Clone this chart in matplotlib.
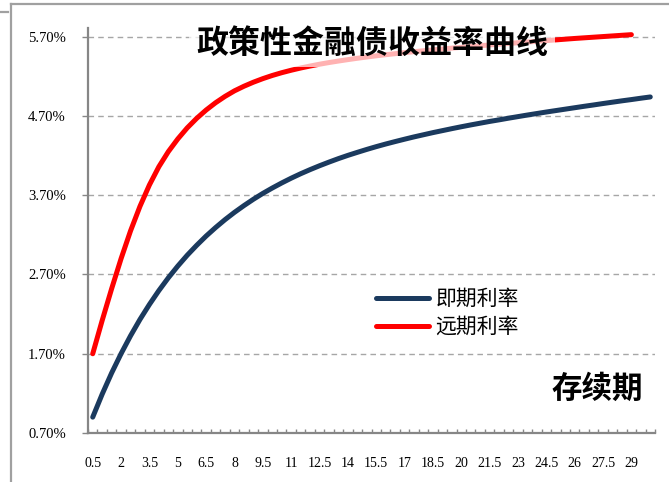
import matplotlib
matplotlib.use("Agg")
import matplotlib.pyplot as plt
from matplotlib.lines import Line2D
from matplotlib.ticker import FixedLocator, FuncFormatter

# ---------------- data ----------------
terms = [0.5, 1.0, 1.5, 2.0, 2.5, 3.0, 3.5, 4.0, 4.5, 5.0,
         5.5, 6.0, 6.5, 7.0, 7.5, 8.0, 8.5, 9.0, 9.5, 10.0,
         10.5, 11.0, 11.5, 12.0, 12.5, 13.0, 13.5, 14.0, 14.5, 15.0,
         15.5, 16.0, 16.5, 17.0, 17.5, 18.0, 18.5, 19.0, 19.5, 20.0,
         20.5, 21.0, 21.5, 22.0, 22.5, 23.0, 23.5, 24.0, 24.5, 25.0,
         25.5, 26.0, 26.5, 27.0, 27.5, 28.0, 28.5, 29.0, 29.5, 30.0]

spot_rate = [0.900, 1.190, 1.457, 1.701, 1.926, 2.133, 2.322, 2.497, 2.658, 2.806,
             2.943, 3.068, 3.185, 3.292, 3.392, 3.484, 3.569, 3.649, 3.723, 3.791,
             3.855, 3.915, 3.971, 4.023, 4.072, 4.118, 4.162, 4.203, 4.241, 4.278,
             4.313, 4.346, 4.377, 4.407, 4.436, 4.463, 4.490, 4.515, 4.540, 4.564,
             4.587, 4.609, 4.631, 4.651, 4.672, 4.692, 4.712, 4.731, 4.750, 4.768,
             4.786, 4.804, 4.822, 4.839, 4.857, 4.874, 4.891, 4.907, 4.924, 4.940]

forward_rate = [1.700, 2.120, 2.520, 2.900, 3.250, 3.560, 3.830, 4.060, 4.250, 4.410,
                4.550, 4.670, 4.775, 4.867, 4.947, 5.017, 5.075, 5.126, 5.171, 5.211,
                5.246, 5.277, 5.305, 5.330, 5.353, 5.374, 5.393, 5.411, 5.428, 5.444,
                5.459, 5.473, 5.486, 5.499, 5.511, 5.523, 5.534, 5.545, 5.556, 5.566,
                5.576, 5.586, 5.596, 5.606, 5.615, 5.624, 5.633, 5.642, 5.651, 5.660,
                5.669, 5.678, 5.686, 5.694, 5.702, 5.710, 5.718, 5.726]

x_tick_labels = ["0.5", "2", "3.5", "5", "6.5", "8", "9.5", "11", "12.5", "14",
                 "15.5", "17", "18.5", "20", "21.5", "23", "24.5", "26", "27.5", "29"]
y_ticks = [0.70, 1.70, 2.70, 3.70, 4.70, 5.70]

title_text = "政策性金融债收益率曲线"
series_names = ["即期利率", "远期利率"]
x_title = "存续期"

# ---------------- style ----------------
W, H = 669, 482
DPI = 100
plt.rcParams["font.family"] = ["Liberation Serif", "Noto Sans CJK SC"]
CJK = ["Noto Sans CJK SC", "DejaVu Sans"]
NAVY = "#1B3A5E"
RED = "#FF0000"
GREY = "#868686"

fig = plt.figure(figsize=(W / DPI, H / DPI), dpi=DPI)
fig.patch.set_facecolor("white")

def fx(px):
    return px / W

def fy(py):
    return 1 - py / H

ax = fig.add_axes([fx(88), fy(433), fx(655) - fx(88), fy(28) - fy(433)])

ax.plot(terms, spot_rate, color=NAVY, lw=3.6, solid_capstyle="round",
        solid_joinstyle="round", label=series_names[0], zorder=3)
ax.plot(terms[:len(forward_rate)], forward_rate, color=RED, lw=3.6,
        solid_capstyle="round", solid_joinstyle="round",
        label=series_names[1], zorder=3)

ax.set_xlim(0.25, 30.25)
ax.set_ylim(0.70, 5.81)

# y axis
ax.yaxis.set_major_locator(FixedLocator(y_ticks))
ax.yaxis.set_major_formatter(FuncFormatter(lambda v, p: f"{v:.2f}%"))
ax.tick_params(axis="y", direction="out", length=4, width=1, color=GREY,
               labelsize=10.5, pad=12)
ax.yaxis.grid(True, color="#A6A6A6", linestyle=(0, (4, 3)), lw=1)

# x axis: labels every 3rd category, small ticks between categories
label_pos = [terms[i] for i in range(0, len(terms), 3)]
ax.xaxis.set_major_locator(FixedLocator(label_pos))
ax.set_xticklabels(x_tick_labels)
ax.tick_params(axis="x", which="major", length=0, labelsize=10, pad=17)
boundaries = [t - 0.25 for t in terms] + [terms[-1] + 0.25]
ax.xaxis.set_minor_locator(FixedLocator(boundaries))
ax.tick_params(axis="x", which="minor", direction="in", length=3, width=1, color=GREY)

for s in ["top", "right"]:
    ax.spines[s].set_visible(False)
for s in ["left", "bottom"]:
    ax.spines[s].set_color(GREY)
    ax.spines[s].set_linewidth(1.6)

# legend
leg = ax.legend(loc="center left", bbox_to_anchor=(fx(376), fy(313)),
                bbox_transform=fig.transFigure, frameon=False,
                prop={"family": CJK, "size": 15}, handlelength=2.55,
                handletextpad=0.3, labelspacing=0.3, borderpad=0,
                borderaxespad=0)

# texts
fig.text(fx(372), fy(44), title_text, ha="center", va="center",
         fontsize=23, fontweight="bold", family=CJK, zorder=10,
         bbox=dict(boxstyle="square,pad=0.22", facecolor="white",
                   edgecolor="none", alpha=0.7))
fig.text(fx(597), fy(389), x_title, ha="center", va="center",
         fontsize=22, fontweight="bold", family=CJK)

# outer frame
fig.add_artist(Line2D([fx(11), fx(11)], [fy(4), fy(490)], color="#A0A0A0", lw=1.6))
fig.add_artist(Line2D([fx(11), fx(680)], [fy(4), fy(4)], color="#A0A0A0", lw=1.6))
fig.add_artist(Line2D([fx(0), fx(8)], [fy(12), fy(12)], color="#A0A0A0", lw=1.6))

fig.savefig("out.png", dpi=DPI, facecolor="white")
